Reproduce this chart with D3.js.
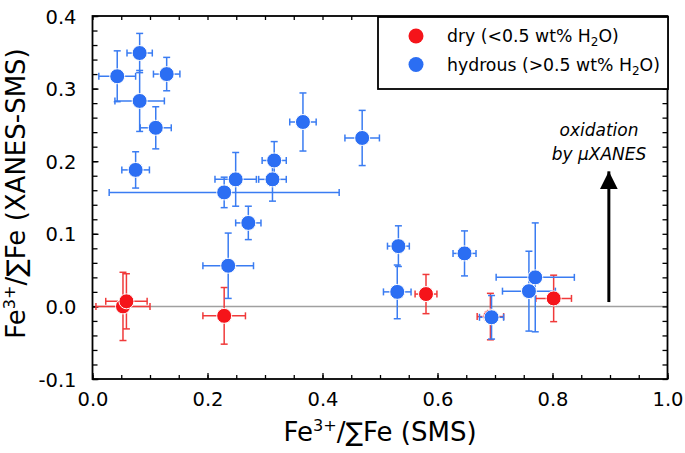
<!DOCTYPE html>
<html><head><meta charset="utf-8">
<script src="https://cdn.jsdelivr.net/npm/d3@7"></script>
<style>
html,body{margin:0;padding:0;background:#fff;}
svg{display:block;font-family:"DejaVu Sans",Verdana,sans-serif;}
</style></head>
<body><svg id="c" width="685" height="453"></svg>
<script>
// ---- data ----
const hydrousX    = [0.043,0.082,0.129,0.082,0.110,0.075,0.229,0.249,0.316,0.313,0.271,0.366,0.469,0.236,0.532,0.530,0.647,0.694,0.759,0.770];
const hydrousY    = [0.317,0.349,0.320,0.283,0.246,0.188,0.157,0.175,0.201,0.175,0.115,0.254,0.232,0.056,0.083,0.020,0.073,-0.015,0.021,0.040];
const hydrousXErr = [0.032,0.022,0.023,0.043,0.027,0.024,0.200,0.036,0.021,0.024,0.022,0.023,0.030,0.044,0.019,0.024,0.020,0.021,0.046,0.068];
const hydrousYErr = [0.035,0.027,0.023,0.042,0.029,0.025,0.021,0.037,0.026,0.030,0.023,0.040,0.038,0.045,0.028,0.037,0.031,0.030,0.055,0.075];
const dryX    = [0.053,0.059,0.229,0.580,0.802,0.692];
const dryY    = [0.000,0.007,-0.013,0.017,0.011,-0.014];
const dryXErr = [0.047,0.036,0.037,0.019,0.031,0.023];
const dryYErr = [0.047,0.038,0.039,0.027,0.032,0.032];
const xMajorTicks = [0,0.2,0.4,0.6,0.8,1.0];
const yMajorTicks = [-0.1,0,0.1,0.2,0.3,0.4];
const legendLabels = ["dry (<0.5 wt% H", "hydrous (>0.5 wt% H"];

const colors = {dry:"#f5141a", hydrous:"#2b6ef3"};
const barColors = {dry:"#f03a3a", hydrous:"#3a7cf2"};

const svg = d3.select("#c");
const L=92.5, R=667.5, T=16, B=379;
const x = d3.scaleLinear().domain([0,1]).range([L,R]);
const y = d3.scaleLinear().domain([-0.1,0.4]).range([B,T]);

// zero line
svg.append("line").attr("x1",L).attr("x2",R).attr("y1",y(0)).attr("y2",y(0))
  .attr("stroke","#a0a0a0").attr("stroke-width",1.5);

// axes ticks
const fmt = v => d3.format(".1f")(v).replace("\u2212","-");
function minorAxis(axisFn, scale, ticks, size){
  return axisFn(scale).tickValues(ticks).tickSize(-size).tickFormat("");
}
const xMinor = d3.range(0,1.0001,0.05);
const yMinor = d3.range(-0.1,0.4001,0.02);
const gb = svg.append("g").attr("transform",`translate(0,${B})`);
gb.call(minorAxis(d3.axisBottom, x, xMinor, 4));
const gbm = svg.append("g").attr("transform",`translate(0,${B})`);
gbm.call(d3.axisBottom(x).tickValues(xMajorTicks).tickSize(-6).tickPadding(20).tickFormat(fmt));
const gt = svg.append("g").attr("transform",`translate(0,${T})`);
gt.call(minorAxis(d3.axisTop, x, xMinor, 4));
const gl = svg.append("g").attr("transform",`translate(${L},0)`);
gl.call(minorAxis(d3.axisLeft, y, yMinor, 5));
const glm = svg.append("g").attr("transform",`translate(${L},0)`);
glm.call(d3.axisLeft(y).tickValues(yMajorTicks).tickSize(-6).tickPadding(16).tickFormat(fmt));
const gr = svg.append("g").attr("transform",`translate(${R},0)`);
gr.call(minorAxis(d3.axisRight, y, yMinor, 5));

svg.selectAll(".domain").remove();
svg.selectAll(".tick line").attr("stroke","#000").attr("stroke-width",1.3);
svg.selectAll(".tick text").attr("font-size",19.5).attr("fill","#000").attr("font-family","DejaVu Sans");
glm.selectAll(".tick text").attr("dy","0.36em");
gbm.selectAll(".tick text").attr("dy","0.71em").attr("y",13);

// frame
svg.append("rect").attr("x",L).attr("y",T).attr("width",R-L).attr("height",B-T)
  .attr("fill","none").attr("stroke","#000").attr("stroke-width",1.8);

// data
function build(xs,ys,xe,ye,key){ return xs.map((v,i)=>({x:v,y:ys[i],xe:xe[i],ye:ye[i],key})); }
const dry = build(dryX,dryY,dryXErr,dryYErr,"dry");
const hyd = build(hydrousX,hydrousY,hydrousXErr,hydrousYErr,"hydrous");
const cap=3.5;
function bars(data){
  const g = svg.append("g");
  data.forEach(d=>{
    const c = barColors[d.key];
    const gg = g.append("g").attr("stroke",c).attr("stroke-width",1.5).attr("fill","none");
    gg.append("line").attr("x1",x(d.x-d.xe)).attr("x2",x(d.x+d.xe)).attr("y1",y(d.y)).attr("y2",y(d.y));
    gg.append("line").attr("x1",x(d.x-d.xe)).attr("x2",x(d.x-d.xe)).attr("y1",y(d.y)-cap).attr("y2",y(d.y)+cap);
    gg.append("line").attr("x1",x(d.x+d.xe)).attr("x2",x(d.x+d.xe)).attr("y1",y(d.y)-cap).attr("y2",y(d.y)+cap);
    gg.append("line").attr("x1",x(d.x)).attr("x2",x(d.x)).attr("y1",y(d.y-d.ye)).attr("y2",y(d.y+d.ye));
    gg.append("line").attr("x1",x(d.x)-cap).attr("x2",x(d.x)+cap).attr("y1",y(d.y-d.ye)).attr("y2",y(d.y-d.ye));
    gg.append("line").attr("x1",x(d.x)-cap).attr("x2",x(d.x)+cap).attr("y1",y(d.y+d.ye)).attr("y2",y(d.y+d.ye));
  });
}
bars(dry); bars(hyd);
function dots(data){
  svg.append("g").selectAll("circle").data(data).join("circle")
    .attr("cx",d=>x(d.x)).attr("cy",d=>y(d.y)).attr("r",7.5)
    .attr("fill",d=>colors[d.key]).attr("stroke","#fff").attr("stroke-width",1);
}
dots(dry); dots(hyd);

// arrow annotation
const ax = x(0.898);
svg.append("defs").append("marker").attr("id","ah").attr("viewBox","0 0 10 10")
  .attr("refX",10).attr("refY",5).attr("markerUnits","userSpaceOnUse")
  .attr("markerWidth",18).attr("markerHeight",24).attr("orient","auto")
  .append("path").attr("d","M0,0 L10,5 L0,10 Z").attr("fill","#000");
svg.append("line").attr("x1",ax).attr("x2",ax).attr("y1",y(0.006)).attr("y2",y(0.186))
  .attr("stroke","#000").attr("stroke-width",3).attr("marker-end","url(#ah)");
const ann = svg.append("text").attr("font-style","italic").attr("font-size",17).attr("text-anchor","middle").attr("fill","#000");
ann.append("tspan").attr("x",599).attr("y",136).text("oxidation");
ann.append("tspan").attr("x",599).attr("y",160).text("by \u03BCXANES");

// legend
const lg = svg.append("g");
lg.append("rect").attr("x",378).attr("y",17).attr("width",290).attr("height",72)
  .attr("fill","#fff").attr("stroke","#000").attr("stroke-width",1.8);
legendLabels.forEach((lab,i)=>{
  const key = i===0?"dry":"hydrous";
  const cy = 36 + i*28.5;
  lg.append("circle").attr("cx",416).attr("cy",cy).attr("r",7.5).attr("fill",colors[key]);
  const t = lg.append("text").attr("x",447).attr("y",cy+6).attr("font-size",17.3).attr("fill","#000");
  t.append("tspan").text(lab);
  t.append("tspan").attr("font-size",12).attr("dy",4).text("2");
  t.append("tspan").attr("dy",-4).text("O)");
});

// axis titles
function title(sel, rest){
  sel.append("tspan").text("Fe");
  sel.append("tspan").attr("font-size","0.62em").attr("dy","-0.62em").text("3+");
  sel.append("tspan").attr("dy","0.385em").text("/\u2211Fe " + rest);
}
const xt = svg.append("text").attr("x",380).attr("y",441).attr("text-anchor","middle")
  .attr("font-size",26).attr("fill","#000");
title(xt,"(SMS)");
const yt = svg.append("text").attr("transform",`translate(25,${(T+B)/2-4}) rotate(-90)`)
  .attr("text-anchor","middle").attr("font-size",26).attr("fill","#000");
title(yt,"(XANES-SMS)");
</script></body></html>
